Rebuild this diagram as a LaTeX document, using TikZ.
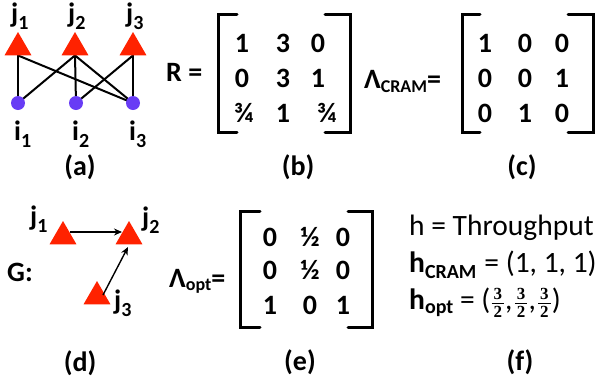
\documentclass[tikz,border=0pt]{standalone}
\usepackage{fontspec}
\setmainfont{Carlito}
\newfontfamily\serifb{Liberation Serif}
\usetikzlibrary{shapes.geometric,arrows.meta,backgrounds}
\definecolor{tred}{RGB}{255,34,0}
\definecolor{cblue}{RGB}{104,60,245}
\newcommand{\lsub}[2][7pt]{\raisebox{-#1}{\fontsize{20}{20}\selectfont #2}}
\newcommand{\ssub}[2][4pt]{\raisebox{-#1}{\fontsize{18}{18}\selectfont #2}}
\newcommand{\fdig}[1]{\hbox{\fontsize{17}{17}\serifb\bfseries\kern2pt #1\kern2pt}}
\newcommand{\thf}{$\textstyle\frac{\fdig{3}}{\fdig{2}}$}
\begin{document}
\begin{tikzpicture}[x=1pt,y=-1pt,
  every node/.style={inner sep=0pt, font=\fontsize{28}{28}\selectfont\bfseries},
  tri/.style={regular polygon, regular polygon sides=3, minimum size=31pt, fill=tred, draw=none},
  dot/.style={circle, fill=cblue, minimum size=14pt, draw=none},
  lbl/.style={anchor=base west},
  captxt/.style={anchor=center},
  ent/.style={anchor=center},
  brk/.style={line width=3pt, line cap=round, line join=miter},
  edge/.style={line width=2pt},
  arr/.style={line width=1.4pt, -{Stealth[length=8pt,width=7pt]}}]
\useasboundingbox (0,0) rectangle (600,386);
% (a)
\node[tri] (j1) at (18,47.5) {};
\node[tri] (j2) at (75,47.5) {};
\node[tri] (j3) at (133,47.5) {};
\node[dot] (i1) at (18,103) {};
\node[dot] (i2) at (76,103) {};
\node[dot] (i3) at (133,103) {};
\begin{scope}[on background layer]
\draw[edge] (j1.side 2) -- (i1.center);
\draw[edge] (j1.side 2) -- (i3.center);
\draw[edge] (j2.side 2) -- (i1.center);
\draw[edge] (j2.side 2) -- (i2.center);
\draw[edge] (j2.side 2) -- (i3.center);
\draw[edge] (j3.side 2) -- (i2.center);
\draw[edge] (j3.side 2) -- (i3.center);
\end{scope}
\node[lbl] (lj1) at (11,22) {j\lsub{1}};
\node[lbl] (lj2) at (68,22) {j\lsub{2}};
\node[lbl] (lj3) at (126,22) {j\lsub{3}};
\node[lbl] (li1) at (14,140) {i\lsub{1}};
\node[lbl] (li2) at (72,140) {i\lsub{2}};
\node[lbl] (li3) at (129,140) {i\lsub{3}};
\node[captxt] (ca) at (80,167) {(a)};
% (b)
\node[lbl] (R) at (166,81) {R =};
\draw[brk] (237,14) -- (218,14) -- (218,132) -- (237,132);
\draw[brk] (325,14) -- (350,14) -- (350,132) -- (325,132);
\node[ent] (b11) at (242,43) {1};
\node[ent] (b12) at (283,43) {3};
\node[ent] (b13) at (318,43) {0};
\node[ent] (b21) at (242,78) {0};
\node[ent] (b22) at (283,78) {3};
\node[ent] (b23) at (318,78) {1};
\node[ent] (b31) at (244,113) {¾};
\node[ent] (b32) at (283,113) {1};
\node[ent] (b33) at (327,113) {¾};
\node[captxt] (cb) at (298,167) {(b)};
% (c)
\node[lbl] (LC) at (364,88) {Λ\ssub{CRAM}=};
\draw[brk] (480,14) -- (462,14) -- (462,132) -- (480,132);
\draw[brk] (568,14) -- (593,14) -- (593,132) -- (568,132);
\node[ent] (c11) at (485,43) {1};
\node[ent] (c12) at (525,43) {0};
\node[ent] (c13) at (562,43) {0};
\node[ent] (c21) at (485,78) {0};
\node[ent] (c22) at (525,78) {0};
\node[ent] (c23) at (562,78) {1};
\node[ent] (c31) at (485,113) {0};
\node[ent] (c32) at (525,113) {1};
\node[ent] (c33) at (562,113) {0};
\node[captxt] (cc) at (522,167) {(c)};
% (d)
\node[lbl] (G) at (7,281) {G:};
\node[tri] (d1) at (63,236.5) {};
\node[tri] (d2) at (129,236.5) {};
\node[tri] (d3) at (97,296.5) {};
\node[lbl] (ld1) at (30,225) {j\lsub{1}};
\node[lbl] (ld2) at (142,226) {j\lsub{2}};
\node[lbl] (ld3) at (114,309) {j\lsub{3}};
\draw[arr] (70,232) -- (122,232);
\draw[arr] (103,295) -- (128,247);
\node[captxt] (cd) at (80,363) {(d)};
% (e)
\node[lbl] (LO) at (169,287) {Λ\ssub[3pt]{opt}=};
\draw[brk] (260,211) -- (240,211) -- (240,327) -- (260,327);
\draw[brk] (348,211) -- (372,211) -- (372,327) -- (348,327);
\node[ent] (e11) at (270,237) {0};
\node[ent] (e12) at (310,237) {½};
\node[ent] (e13) at (343,237) {0};
\node[ent] (e21) at (270,270) {0};
\node[ent] (e22) at (310,270) {½};
\node[ent] (e23) at (343,270) {0};
\node[ent] (e31) at (270,305) {1};
\node[ent] (e32) at (310,305) {0};
\node[ent] (e33) at (343,305) {1};
\node[captxt] (ce) at (300,362) {(e)};
% (f)
\node[lbl,font=\fontsize{29.5}{29.5}\selectfont] (h1) at (409,235) {h = Throughput};
\node[lbl,font=\fontsize{29.5}{29.5}\selectfont] (h2) at (409,272) {\textbf{h}\raisebox{-6pt}{\fontsize{20}{20}\selectfont\bfseries CRAM}\hspace{8pt}= (1, 1, 1)};
\node[lbl,font=\fontsize{29.5}{29.5}\selectfont] (h3) at (409,309) {\textbf{h}\raisebox{-4pt}{\fontsize{20}{20}\selectfont\bfseries opt} = (\thf,\kern1pt\thf,\kern1pt\thf)};
\node[captxt] (cf) at (520,362) {(f)};
\end{tikzpicture}
\end{document}
